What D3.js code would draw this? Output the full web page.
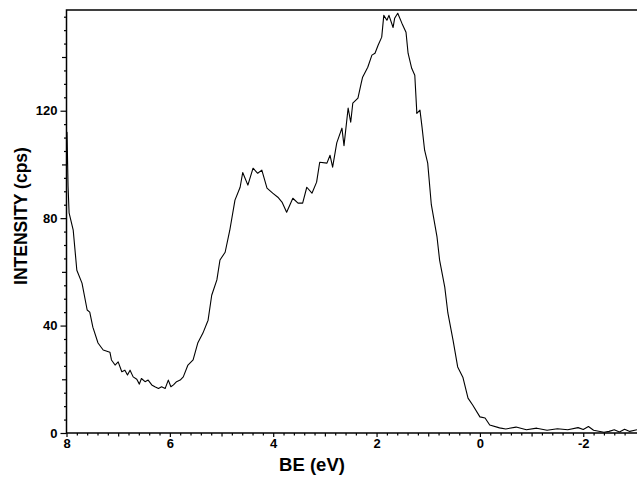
<!DOCTYPE html>
<html>
<head>
<meta charset="utf-8">
<script src="https://cdn.jsdelivr.net/npm/d3@7"></script>
<style>
  body { margin: 0; background: #fff; }
  svg { display: block; font-family: "Liberation Sans", Arial, sans-serif; }
</style>
</head>
<body>
<div id="chart"></div>
<script>
// binding energy (eV) and intensity (cps)
const bindingEnergy = [
  8.00, 7.99, 7.97, 7.95, 7.87, 7.80, 7.70, 7.60, 7.55, 7.49, 7.39, 7.29, 7.16,
  7.13, 7.06, 7.00, 6.93, 6.87, 6.82, 6.77, 6.71, 6.64, 6.59, 6.55, 6.48, 6.42, 6.35,
  6.29, 6.22, 6.16, 6.09, 6.03, 5.98, 5.93, 5.87, 5.80, 5.74,
  5.65, 5.55, 5.46, 5.36,
  5.26, 5.19, 5.09, 5.03, 4.93, 4.84, 4.74, 4.64, 4.59, 4.49, 4.39, 4.30, 4.22, 4.12, 4.01,
  3.91, 3.83, 3.74, 3.62, 3.52, 3.43, 3.35, 3.25, 3.16, 3.10, 2.96, 2.90, 2.85, 2.77, 2.67,
  2.63, 2.55, 2.50, 2.46, 2.36, 2.30, 2.27, 2.17, 2.09, 2.03, 1.97, 1.90, 1.86, 1.80, 1.76,
  1.68, 1.65, 1.59, 1.51, 1.43, 1.39, 1.32, 1.26, 1.22, 1.16, 1.12, 1.07, 1.01, 0.94, 0.83,
  0.78, 0.68, 0.62, 0.52, 0.43, 0.33, 0.23, 0.14, 0.00, -0.10, -0.19, -0.38, -0.50, -0.70,
  -0.90, -1.10, -1.30, -1.50, -1.70, -1.90, -2.00, -2.10, -2.20, -2.40, -2.50, -2.60, -2.70,
  -2.80, -2.90, -3.04
]
const intensity = [
  100, 112, 92, 82, 75.5, 60.6, 55.8, 45.8, 45, 39.4, 33.5, 30.9, 30.1,
  27.2, 25.3, 26.5, 22.8, 23.4, 21.6, 23.4, 20.9, 20, 18.2, 20.3, 19.1, 19.7, 17.9,
  17.2, 16.6, 17.2, 16.6, 19.7, 17.2, 17.9, 19.1, 19.7, 20.9,
  25.3, 27.2, 33.5, 37.2,
  42, 51.3, 57, 64.4, 67.3, 75.5, 86.7, 91.5, 97, 92.3, 98.6, 96.7, 97.9, 91.2, 89.3,
  87.8, 86, 82.2, 87.4, 85.6, 85.6, 91.5, 89.3, 93.4, 100.8, 100.5, 103.4, 99, 108, 113.5,
  107, 121, 115.7, 122.8, 124.7, 130, 132.5, 136.2, 140.7, 141.4, 144.4, 147.4, 155.5, 153.7, 155.5,
  151, 154.4, 156.3, 152.6, 149.2, 141.4, 135.8, 133.2, 119, 120.2, 113.9, 105.3, 100.5, 85, 73,
  64.4, 54.3, 44.7, 34.6, 24.6, 20.8, 13, 10.4, 6, 5.6, 3, 1.9, 1.5, 2.2,
  1.2, 1.8, 1.0, 1.6, 1.2, 2.0, 1.3, 2.4, 1.0, 0.3, 0.6, 1.2, 0.4,
  1.4, 0.6, 1.2
]
const xTickLabels = [8, 6, 4, 2, 0, -2]
const yTickLabels = [0, 40, 80, 120]

const W = 637, H = 478
const MARGIN = { TOP: 10, BOTTOM: 45, LEFT: 66.5, RIGHT: 0 }

const svg = d3.select("#chart").append("svg")
  .attr("width", W)
  .attr("height", H)

const x = d3.scaleLinear()
  .domain([8, -3.04])
  .range([MARGIN.LEFT, W - MARGIN.RIGHT])

const y = d3.scaleLinear()
  .domain([0, 157.5])
  .range([H - MARGIN.BOTTOM, MARGIN.TOP])

const yBase = H - MARGIN.BOTTOM

// y axis: labelled, medium and small ticks
const yMinor = d3.range(5, 157, 5).filter(v => v % 20 !== 0)
const yMid = d3.range(20, 157, 40)

function styleAxis(g) {
  g.select(".domain").remove()
  g.selectAll("line").attr("stroke", "#000").attr("stroke-width", 1.2)
  g.selectAll("text")
    .attr("fill", "#000")
    .style("font-size", "13px")
    .style("font-weight", "bold")
}

svg.append("g")
  .attr("transform", `translate(${MARGIN.LEFT},0)`)
  .call(d3.axisLeft(y).tickValues(yMinor).tickSize(2.5).tickFormat(""))
  .call(styleAxis)

svg.append("g")
  .attr("transform", `translate(${MARGIN.LEFT},0)`)
  .call(d3.axisLeft(y).tickValues(yMid).tickSize(4.5).tickFormat(""))
  .call(styleAxis)

svg.append("g")
  .attr("transform", `translate(${MARGIN.LEFT},0)`)
  .call(d3.axisLeft(y).tickValues(yTickLabels).tickSize(6).tickPadding(3).tickFormat(d => String(d)))
  .call(styleAxis)

// x axis
const xMinor = d3.range(-30, 80, 2).map(v => v / 10).filter(v => Math.abs(v - Math.round(v)) > 0.01)
const xMid = [7, 5, 3, 1, -1]

svg.append("g")
  .attr("transform", `translate(0,${yBase})`)
  .call(d3.axisBottom(x).tickValues(xMinor).tickSize(2.5).tickFormat(""))
  .call(styleAxis)

svg.append("g")
  .attr("transform", `translate(0,${yBase})`)
  .call(d3.axisBottom(x).tickValues(xMid).tickSize(3.5).tickFormat(""))
  .call(styleAxis)

svg.append("g")
  .attr("transform", `translate(0,${yBase})`)
  .call(d3.axisBottom(x).tickValues(xTickLabels).tickSize(4).tickPadding(2).tickFormat(d => String(d)))
  .call(styleAxis)

// frame lines: left, bottom, top
svg.append("path")
  .attr("d", `M${W},${MARGIN.TOP}H${MARGIN.LEFT}V${yBase}H${W}`)
  .attr("fill", "none")
  .attr("stroke", "#000")
  .attr("stroke-width", 1.5)

// spectrum
const points = bindingEnergy.map((e, i) => [e, intensity[i]])
svg.append("path")
  .datum(points)
  .attr("fill", "none")
  .attr("stroke", "#000")
  .attr("stroke-width", 1.1)
  .attr("stroke-linejoin", "round")
  .attr("d", d3.line().x(d => x(d[0])).y(d => y(d[1])))

// axis titles
svg.append("text")
  .attr("x", 312)
  .attr("y", 471)
  .attr("text-anchor", "middle")
  .style("font-size", "18.5px")
  .style("font-weight", "bold")
  .text("BE (eV)")

svg.append("text")
  .attr("transform", "translate(27,216) rotate(-90)")
  .attr("text-anchor", "middle")
  .style("font-size", "17.5px")
  .style("font-weight", "bold")
  .text("INTENSITY (cps)")
</script>
</body>
</html>
